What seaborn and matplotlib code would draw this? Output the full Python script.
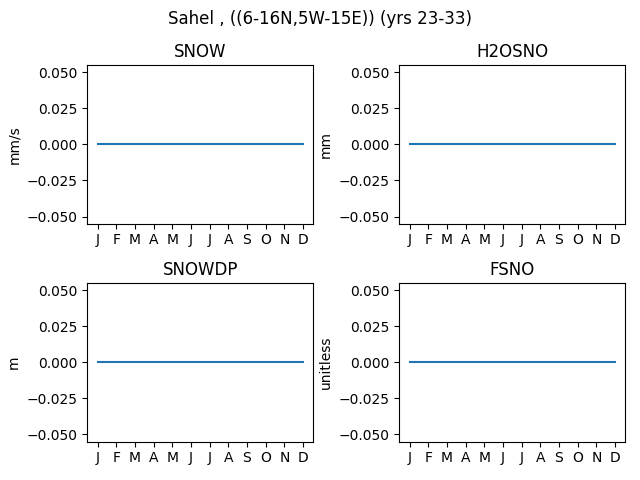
import numpy as np
import pandas as pd
import matplotlib
matplotlib.use("Agg")
import matplotlib.pyplot as plt
import seaborn as sns

# monthly climatology, all zero over the Sahel
months = [1, 2, 3, 4, 5, 6, 7, 8, 9, 10, 11, 12]
month_labels = ["J", "F", "M", "A", "M", "J", "J", "A", "S", "O", "N", "D"]
variables = ["SNOW", "H2OSNO", "SNOWDP", "FSNO"]
units = ["mm/s", "mm", "m", "unitless"]
snow = [0.0] * 12
h2osno = [0.0] * 12
snowdp = [0.0] * 12
fsno = [0.0] * 12
values = [snow, h2osno, snowdp, fsno]

fig, axes = plt.subplots(2, 2, figsize=(6.4, 4.8), dpi=100)
for ax, var, unit, vals in zip(axes.flat, variables, units, values):
    df = pd.DataFrame({"month": months, "value": vals})
    sns.lineplot(data=df, x="month", y="value", ax=ax)
    ax.set_title(var)
    ax.set_ylabel(unit)
    ax.set_xlabel("")
    ax.set_xticks(months)
    ax.set_xticklabels(month_labels)

fig.suptitle("Sahel , ((6-16N,5W-15E)) (yrs 23-33)")
fig.subplots_adjust(left=0.1364, right=0.977, top=0.8646, bottom=0.0798,
                    wspace=0.3805, hspace=0.373)
fig.savefig("out.png")
